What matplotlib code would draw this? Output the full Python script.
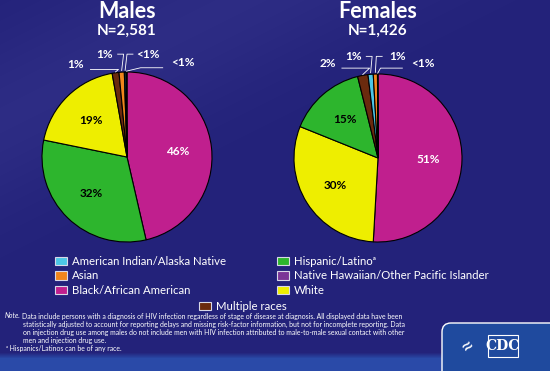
import numpy as np
import matplotlib
matplotlib.use("Agg")
import matplotlib.pyplot as plt
from matplotlib.patches import Patch, FancyBboxPatch, Rectangle

plt.rcParams['font.family'] = ['Lato', 'DejaVu Sans']

# Data (percent of diagnoses), clockwise from 12 o'clock
male_groups = ['Black/African American', 'Hispanic/Latino', 'White', 'Multiple races',
               'Asian', 'American Indian/Alaska Native', 'Native Hawaiian/Other Pacific Islander']
male_values = [46.4, 31.8, 19.0, 1.3, 1.0, 0.3, 0.2]

female_groups = ['Black/African American', 'White', 'Hispanic/Latino', 'Multiple races',
                 'American Indian/Alaska Native', 'Asian', 'Native Hawaiian/Other Pacific Islander']
female_values = [50.9, 30.2, 15.0, 2.0, 1.0, 0.8, 0.1]

colors = {
    'American Indian/Alaska Native': '#4cc6e6',
    'Asian': '#f0851c',
    'Black/African American': '#c01f8e',
    'Hispanic/Latino': '#2db52d',
    'Native Hawaiian/Other Pacific Islander': '#7b3597',
    'White': '#eeee00',
    'Multiple races': '#6a2a0e',
}

BG = '#23227a'
W, H = 550, 371

fig = plt.figure(figsize=(5.5, 3.71), dpi=100)

# background
bg = fig.add_axes([0, 0, 1, 1])
bg.set_axis_off()
top = np.array([0x23, 0x22, 0x7a]) / 255
band = np.array([0x2a, 0x4a, 0xa8]) / 255
yy = np.arange(H)[:, None]
xx = np.arange(W)[None, :]
mix = np.clip((yy - 352) / 6.0, 0, 1)
base = top[None, None, :] * (1 - mix[..., None]) + band[None, None, :] * mix[..., None]
streak = 0.04 * np.exp(-((xx * 0.5 + yy - 120) / 90.0) ** 2) * (1 - mix)
grad = np.clip(base + streak[..., None], 0, 1)
bg.imshow(grad, extent=[0, W, H, 0], aspect='auto')
bg.set_xlim(0, W)
bg.set_ylim(H, 0)


def small_label(v):
    return '<1%' if round(v) < 1 else f'{round(v)}%'


def draw_pie(cx, cy, r, title, n, groups, values, outer_pos, hooks):
    ax = fig.add_axes([(cx - r) / W, (H - cy - r) / H, 2 * r / W, 2 * r / H])
    wedges, _ = ax.pie(values, colors=[colors[g] for g in groups], startangle=90,
                       counterclock=False, radius=1,
                       wedgeprops=dict(edgecolor='black', linewidth=0.8))
    ax.set_xlim(-1, 1)
    ax.set_ylim(-1, 1)
    ax.set_axis_off()
    for w, g, v in zip(wedges, groups, values):
        mid = np.deg2rad((w.theta1 + w.theta2) / 2)
        if v >= 5:
            col = 'white' if g == 'Black/African American' else 'black'
            ax.text(0.6 * np.cos(mid), 0.6 * np.sin(mid), f'{round(v)}%', ha='center',
                    va='center', fontsize=8.5, fontweight='bold', color=col)
    small = [(w, v) for w, v in zip(wedges, values) if v < 5]
    for (w, v), (tx, ty), hook in zip(small, outer_pos, hooks):
        mid = np.deg2rad((w.theta1 + w.theta2) / 2)
        ex, ey = np.cos(mid), np.sin(mid)
        ax.text(tx, ty, small_label(v), ha='center', va='center', fontsize=8.5,
                fontweight='bold', color='white', clip_on=False)
        if hook == 'left':
            ax.plot([tx + 0.17, tx + 0.5, ex], [ty - 0.06, ty - 0.06, ey + 0.01],
                    color='white', lw=0.6, clip_on=False)
        elif hook == 'right':
            ax.plot([tx - 0.24, tx - 0.5, ex], [ty - 0.06, ty - 0.06, ey + 0.01],
                    color='white', lw=0.6, clip_on=False)
        elif hook == 'up_left':
            ax.plot([tx + 0.15, tx + 0.22, ex], [ty, ty, ey + 0.02],
                    color='white', lw=0.6, clip_on=False)
        else:
            ax.plot([tx - 0.18, tx - 0.25, ex], [ty, ty, ey + 0.02],
                    color='white', lw=0.6, clip_on=False)
    fig.text(cx / W, 1 - 12 / H, title, ha='center', va='center', fontsize=15.5,
             fontweight='bold', color='white')
    fig.text(cx / W, 1 - 31 / H, n, ha='center', va='center', fontsize=11,
             fontweight='bold', color='white')


draw_pie(127, 157, 85, 'Males', 'N=2,581', male_groups, male_values,
         [(-0.60, 1.09), (-0.26, 1.21), (0.25, 1.21), (0.66, 1.11)],
         ['left', 'up_left', 'up_right', 'right'])
draw_pie(378, 158, 84, 'Females', 'N=1,426', female_groups, female_values,
         [(-0.60, 1.13), (-0.29, 1.21), (0.23, 1.21), (0.53, 1.13)],
         ['left', 'up_left', 'up_right', 'right'])

# legend
def handles(names):
    return [Patch(facecolor=colors[g], edgecolor='#d8d8e8', linewidth=0.8,
                  label=g if g != 'Hispanic/Latino' else 'Hispanic/Latino\u1d43')
            for g in names]

leg_kw = dict(frameon=False, fontsize=8.2, labelcolor='white', handlelength=1.05,
              handleheight=0.75, handletextpad=0.45, labelspacing=0.33, borderpad=0)
col1 = ['American Indian/Alaska Native', 'Asian', 'Black/African American']
col2 = ['Hispanic/Latino', 'Native Hawaiian/Other Pacific Islander', 'White']
fig.legend(handles=handles(col1), loc='upper left',
           bbox_to_anchor=(49 / W, 1 - 250 / H), **leg_kw)
fig.legend(handles=handles(col2), loc='upper left',
           bbox_to_anchor=(271 / W, 1 - 250 / H), **leg_kw)
fig.legend(handles=handles(['Multiple races']), loc='upper left',
           bbox_to_anchor=(193 / W, 1 - 295 / H), **leg_kw)

# footnote
note_kw = dict(fontsize=4.95, color='white', va='center', ha='left')
fig.text(5 / W, 1 - 316 / H, 'Note.', style='italic', **note_kw)
fig.text(22 / W, 1 - 316 / H, 'Data include persons with a diagnosis of HIV infection regardless '
         'of stage of disease at diagnosis. All displayed data have been', **note_kw)
fig.text(23 / W, 1 - 324 / H, 'statistically adjusted to account for reporting delays and missing '
         'risk-factor information, but not for incomplete reporting. Data', **note_kw)
fig.text(23 / W, 1 - 332 / H, 'on injection drug use among males do not include men with HIV '
         'infection attributed to male-to-male sexual contact with other', **note_kw)
fig.text(23 / W, 1 - 340 / H, 'men and injection drug use.', **note_kw)
fig.text(6 / W, 1 - 348 / H, '\u1d43 Hispanics/Latinos can be of any race.', **note_kw)

# CDC badge
badge = FancyBboxPatch((442, 323), 120, 60, boxstyle='round,pad=0,rounding_size=9',
                       facecolor='#1f4a9e', edgecolor='white', linewidth=1.0,
                       transform=bg.transData, clip_on=False)
bg.add_patch(badge)
bg.add_patch(Rectangle((488, 335), 30, 22, facecolor='#1f4a9e', edgecolor='white',
                       linewidth=0.8))
bg.text(503, 346, 'CDC', color='white', fontsize=10, fontweight='bold', family='DejaVu Serif',
        ha='center', va='center')
bg.text(468, 346, '\u2248', color='white', fontsize=16, ha='center', va='center', rotation=40)

fig.savefig('out.png', dpi=100, facecolor=BG)
